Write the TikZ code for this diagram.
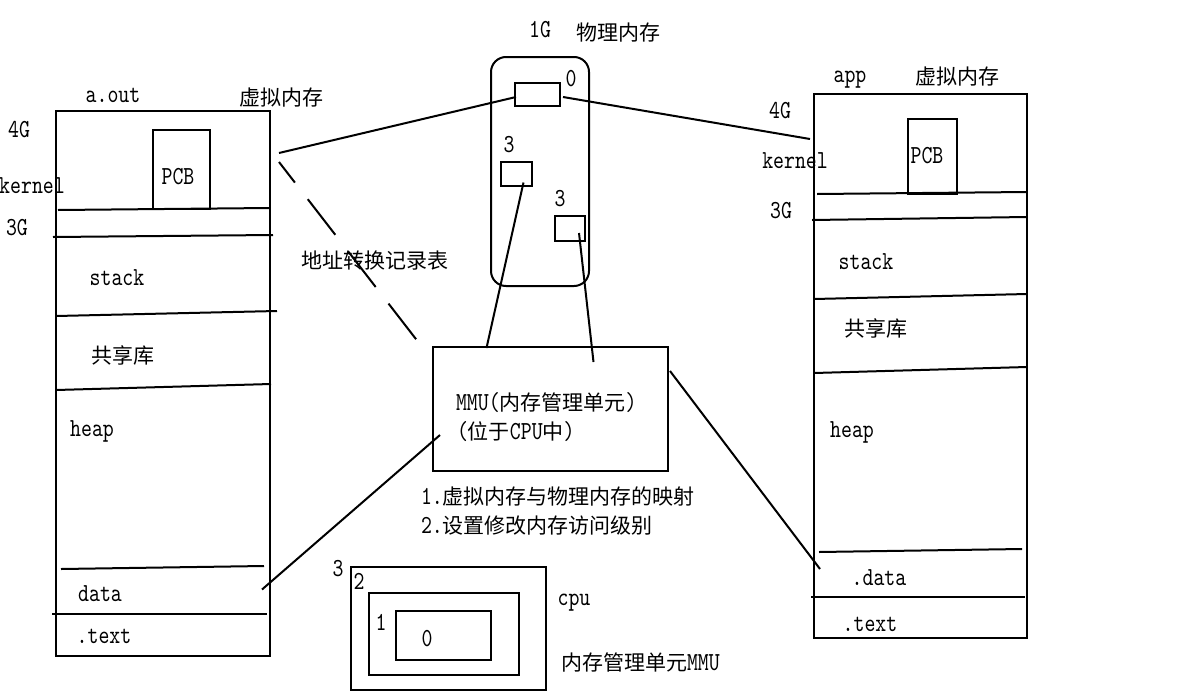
\documentclass[tikz,border=0pt]{standalone}
\usepackage{fontspec}
\setmainfont[FakeStretch=0.8, Extension=.otf]{lmmono10-regular}
\newfontfamily\cjk{Noto Sans CJK SC}
\newcommand\zh[1]{{\cjk\fontsize{21}{24}\selectfont #1}}
\usetikzlibrary{calc}

\begin{document}
\begin{tikzpicture}[x=1pt, y=-1pt, line width=2pt,
  every node/.style={font=\fontsize{26}{28}\selectfont, inner sep=0pt},
  box/.style={draw, rectangle},
  dashlink/.style={dash pattern=on 45pt off 21pt, dash phase=19pt}]
\useasboundingbox (0,0) rectangle (1191,699);
% virtual memory of a.out
\node[box, minimum width=214pt, minimum height=545pt] (aout) at (163,383.5) {};
\node[box, minimum width=57pt, minimum height=79pt] (pcbL) at (181.5,169.5) {};
\node at (178,177) {PCB};
\draw (58,210) -- (270,208);
\draw (53,237) -- (273,235);
\draw (56,316) -- (277,311);
\draw (56,390) -- (271,384);
\draw (61,569) -- (264,566);
\draw (52,614) -- (267,614);
\node (aoutT) at (113,95) {a.out};
\node (vmL) at (281,98) {\zh{虚拟内存}};
\node at (19,130) {4G};
\node at (32,186) {kernel};
\node at (17,228) {3G};
\node at (117,278) {stack};
\node at (123,355) {\zh{共享库}};
\node at (92,431) {heap};
\node at (100,594) {data};
\node at (104,636) {.text};
% physical memory
\node at (540,30) {1G};
\node at (618,33) {\zh{物理内存}};
\node[box, rounded corners=15pt, minimum width=98pt, minimum height=229pt] (phys) at (540,171.5) {};
\node[box, minimum width=45pt, minimum height=23pt] (pa) at (537.5,94) {};
\node[box, minimum width=31pt, minimum height=24pt] (pb) at (516.5,173.5) {};
\node[box, minimum width=30pt, minimum height=25pt] (pc) at (570,228) {};
\node at (571,79) {0};
\node at (509,145) {3};
\node at (560,199) {3};
% virtual memory of app
\node[box, minimum width=213pt, minimum height=544pt] (app) at (920.5,366) {};
\node[box, minimum width=49pt, minimum height=75pt] (pcbR) at (932.5,156.5) {};
\node at (927,156) {PCB};
\draw (817,194) -- (1027,192);
\draw (812,220) -- (1027,217);
\draw (814,299) -- (1027,294);
\draw (814,373) -- (1027,367);
\draw (819,552) -- (1022,549);
\draw (811,597) -- (1025,597);
\node (appT) at (850,80) {app};
\node (vmR) at (957,77) {\zh{虚拟内存}};
\node at (780,111) {4G};
\node at (795,161) {kernel};
\node at (781,211) {3G};
\node at (866,262) {stack};
\node at (876,328) {\zh{共享库}};
\node at (852,432) {heap};
\node at (879,578) {.data};
\node at (870,624) {.text};
% MMU
\node[box, minimum width=235pt, minimum height=124pt] (mmu) at (550.5,409) {};
\node[anchor=west] (mmuA) at (455,403) {MMU(\zh{内存管理单元})};
\node[anchor=west] (mmuB) at (456,432) {(\zh{位于}CPU\zh{中})};
\node[anchor=west] (duty1) at (420,497) {1.\zh{虚拟内存与物理内存的映射}};
\node[anchor=west] (duty2) at (420,526) {2.\zh{设置修改内存访问级别}};
\node (table) at (375,261) {\zh{地址转换记录表}};
% links
\coordinate (aoutTab) at (279,153);
\coordinate (aoutDash) at (279,162);
\draw (aoutTab) -- ($(pa.west)+(2,3)$);
\draw ($(pa.east)+(2,3)$) -- ($(app.west)+(-3,-227)$);
\draw[dashlink] (aoutDash) -- ($(mmu.north west)+(-13,-3)$);
\draw ($(pb.center)+(7,9)$) -- ($(mmu.north)+(-64,2)$);
\draw ($(pc.center)+(9,5)$) -- ($(mmu.north)+(43,16)$);
\draw ($(mmu.west)+(8,26)$) -- ($(aout.east)+(-9,206)$);
\draw ($(mmu.north east)+(1,25)$) -- ($(app.west)+(7,203)$);
% privilege rings
\node[box, minimum width=195pt, minimum height=123pt] (ring3) at (448.5,628.5) {};
\node[box, minimum width=150pt, minimum height=82pt] (ring2) at (444,634) {};
\node[box, minimum width=95pt, minimum height=49pt] (ring1) at (443.5,635.5) {};
\node at (338,569) {3};
\node at (359,581) {2};
\node at (381,622) {1};
\node at (427,639) {0};
\node (cpu) at (574,603) {cpu};
\node[anchor=west] (mmuC) at (560,662) {\zh{内存管理单元}MMU};
\end{tikzpicture}
\end{document}
